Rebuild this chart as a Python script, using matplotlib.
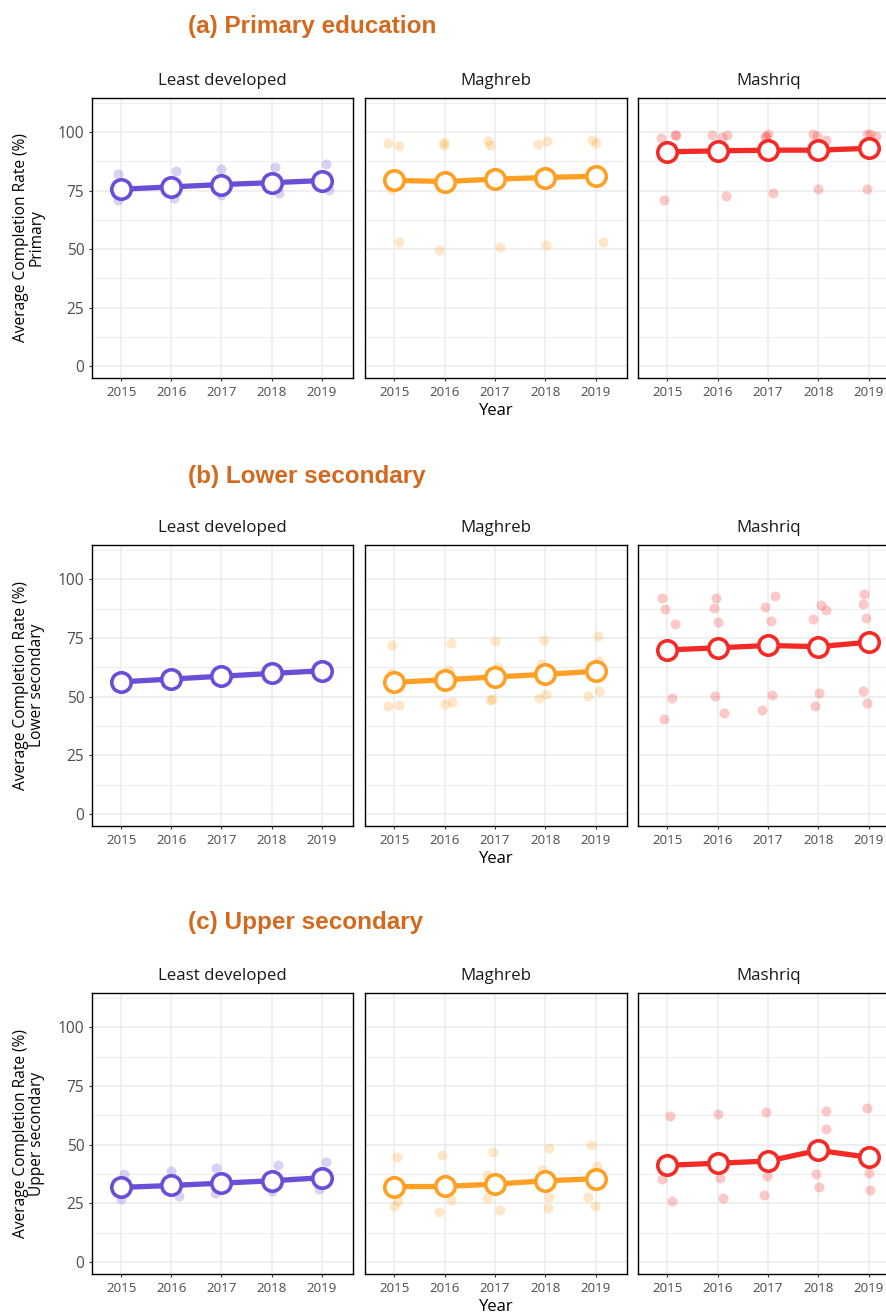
import matplotlib
matplotlib.use("Agg")
import matplotlib.pyplot as plt
from matplotlib.ticker import MultipleLocator

# ---------------- data ----------------
years = [2015, 2016, 2017, 2018, 2019]
regions = ["Least developed", "Maghreb", "Mashriq"]
levels = ["Primary", "Lower secondary", "Upper secondary"]
level_titles = ["(a) Primary education", "(b) Lower secondary", "(c) Upper secondary"]

# Primary
primary_ld_mean = [75.6, 76.6, 77.6, 78.4, 79.3]
primary_ld_pts = [[82.3, 70.9, 74.3], [83.3, 71.7, 74.5], [84.3, 73.0, 75.5],
                  [85.3, 74.2, 76.0], [86.3, 75.2, 76.5]]
primary_ld_jit = [[-0.07, -0.07, 0.02], [0.09, 0.05, -0.06], [0.0, 0.0, 0.03],
                  [0.07, 0.15, -0.07], [0.08, 0.14, -0.05]]

primary_mag_mean = [79.4, 78.9, 79.9, 80.6, 81.2]
primary_mag_pts = [[95.2, 94.0, 52.9, 75.5], [95.9, 94.3, 49.6, 75.8],
                   [96.2, 94.4, 50.7, 78.3], [94.9, 96.3, 51.8, 79.4],
                   [96.6, 95.2, 52.9, 80.1]]
primary_mag_jit = [[-0.13, 0.09, 0.09, -0.07], [-0.02, -0.02, -0.12, 0.05],
                   [-0.13, -0.10, 0.09, 0.02], [-0.15, 0.03, 0.01, 0.04],
                   [-0.07, 0.01, 0.15, -0.03]]

primary_mas_mean = [91.6, 92.0, 92.3, 92.3, 93.1]
primary_mas_pts = [[97.3, 98.7, 98.7, 71.2], [98.8, 98.0, 98.6, 72.6],
                   [98.0, 99.0, 98.4, 73.8], [99.0, 98.2, 96.6, 75.5],
                   [99.0, 99.4, 98.2, 75.8]]
primary_mas_jit = [[-0.13, 0.15, 0.17, -0.07], [-0.12, 0.08, 0.18, 0.16],
                   [-0.06, 0.01, -0.03, 0.10], [-0.10, -0.02, 0.15, 0.0],
                   [-0.04, 0.02, 0.15, -0.04]]

# Lower secondary
lower_ld_mean = [56.3, 57.5, 58.7, 59.9, 61.0]
lower_ld_pts = [[56.3], [57.5], [58.7], [59.9], [61.0]]
lower_ld_jit = [[0.0], [0.0], [0.0], [0.0], [0.0]]

lower_mag_mean = [56.1, 57.2, 58.4, 59.5, 60.8]
lower_mag_pts = [[71.8, 60.1, 45.9, 46.6], [72.8, 61.5, 47.0, 47.6],
                 [73.6, 62.7, 48.4, 49.1], [74.1, 63.7, 49.3, 51.0],
                 [75.8, 65.1, 50.1, 52.4]]
lower_mag_jit = [[-0.05, -0.07, -0.13, 0.09], [0.13, 0.09, 0.0, 0.14],
                 [0.01, 0.05, -0.10, -0.05], [-0.02, -0.09, -0.12, 0.02],
                 [0.05, 0.07, -0.15, 0.06]]

lower_mas_mean = [69.9, 70.8, 71.8, 71.3, 73.2]
lower_mas_pts = [[91.9, 87.2, 80.9, 49.3, 40.6], [92.0, 87.6, 81.6, 50.1, 42.9],
                 [92.9, 88.3, 82.2, 50.9, 44.4], [89.0, 86.9, 83.2, 51.6, 46.2],
                 [93.6, 89.6, 83.6, 52.4, 47.1]]
lower_mas_jit = [[-0.10, -0.05, 0.15, 0.09, -0.07], [-0.04, -0.08, 0.0, -0.05, 0.12],
                 [0.13, -0.05, 0.06, 0.07, -0.12], [0.05, 0.16, -0.11, 0.02, -0.06],
                 [-0.10, -0.12, -0.05, -0.12, -0.03]]

# Upper secondary
upper_ld_mean = [31.8, 32.6, 33.6, 34.6, 35.9]
upper_ld_pts = [[37.7, 27.0, 30.7], [38.6, 28.3, 31.0], [40.0, 29.3, 31.5],
                [41.2, 30.1, 32.5], [42.6, 31.2, 34.0]]
upper_ld_jit = [[0.05, 0.0, 0.03], [0.0, 0.15, -0.04], [-0.10, -0.12, 0.04],
                [0.12, 0.0, -0.05], [0.08, -0.05, 0.03]]

upper_mag_mean = [32.1, 32.2, 33.2, 34.6, 35.5]
upper_mag_pts = [[44.6, 23.9, 26.1, 33.8], [45.7, 21.2, 26.5, 35.4],
                 [46.9, 37.2, 27.1, 22.2], [48.7, 39.3, 27.6, 22.9],
                 [49.9, 40.7, 27.9, 23.8]]
upper_mag_jit = [[0.05, 0.0, 0.07, -0.03], [-0.06, -0.11, 0.13, 0.02],
                 [-0.03, -0.15, -0.15, 0.09], [0.08, -0.06, 0.08, 0.05],
                 [-0.09, 0.03, -0.15, -0.01]]

upper_mas_mean = [41.2, 42.1, 43.0, 47.6, 44.6]
upper_mas_pts = [[62.4, 35.5, 25.8], [63.0, 36.0, 27.2], [63.7, 36.6, 28.5],
                 [64.5, 56.7, 37.3, 32.1], [65.4, 37.9, 30.6]]
upper_mas_jit = [[0.05, -0.11, 0.09], [0.0, 0.05, 0.11], [-0.03, -0.01, -0.07],
                 [0.16, 0.15, -0.04, 0.02], [-0.03, 0.0, 0.03]]

means = [[primary_ld_mean, primary_mag_mean, primary_mas_mean],
         [lower_ld_mean, lower_mag_mean, lower_mas_mean],
         [upper_ld_mean, upper_mag_mean, upper_mas_mean]]
points = [[primary_ld_pts, primary_mag_pts, primary_mas_pts],
          [lower_ld_pts, lower_mag_pts, lower_mas_pts],
          [upper_ld_pts, upper_mag_pts, upper_mas_pts]]
jitters = [[primary_ld_jit, primary_mag_jit, primary_mas_jit],
           [lower_ld_jit, lower_mag_jit, lower_mas_jit],
           [upper_ld_jit, upper_mag_jit, upper_mas_jit]]

region_colors = ["#6B4ED8", "#FFA024", "#F42A26"]
title_color = "#D2691E"

# ---------------- figure ----------------
W, H = 887, 1313
fig = plt.figure(figsize=(W / 100, H / 100), dpi=100)
plt.rcParams['font.family'] = ['Open Sans', 'DejaVu Sans']

col_px = [(92, 353), (365, 627), (638, 900)]
row_px = [(98, 378), (545, 826), (993, 1274)]
title_y = [27, 476, 922]

for r in range(3):
    top, bot = row_px[r]
    fig.text(188 / W, 1 - title_y[r] / H, level_titles[r], color=title_color,
             fontsize=17.5, fontweight='bold', family=['Liberation Sans', 'DejaVu Sans'],
             ha='left', va='center')
    fig.text(29 / W, 1 - ((top + bot) / 2) / H,
             "Average Completion Rate (%)\n" + levels[r], rotation=90,
             ha='center', va='center', multialignment='center', fontsize=11.2,
             color='black', linespacing=0.95)
    for c in range(3):
        l, rr = col_px[c]
        ax = fig.add_axes([l / W, 1 - bot / H, (rr - l) / W, (bot - top) / H])
        ax.set_xlim(2014.42, 2019.62)
        ax.set_ylim(-5.1, 114.6)
        ax.yaxis.set_major_locator(MultipleLocator(25))
        ax.yaxis.set_minor_locator(MultipleLocator(12.5))
        ax.set_xticks(years)
        ax.grid(which='major', color='#EBEBEB', linewidth=1.1, zorder=0)
        ax.grid(which='minor', axis='y', color='#EBEBEB', linewidth=0.6, zorder=0)
        ax.set_axisbelow(True)
        for s in ax.spines.values():
            s.set_color('black')
            s.set_linewidth(1.0)
        if c == 2:
            ax.spines['right'].set_visible(False)
        ax.tick_params(which='major', length=2.5, width=0.8, color='#333333',
                       labelcolor='#4D4D4D')
        ax.tick_params(which='minor', length=0)
        ax.tick_params(axis='x', labelsize=9.6, pad=3)
        ax.tick_params(axis='y', labelsize=11.2, pad=3)
        if c != 0:
            ax.tick_params(axis='y', labelleft=False, length=0)
        col = region_colors[c]
        pts = points[r][c]
        jit = jitters[r][c]
        for i, yr in enumerate(years):
            xs = [yr + j for j in jit[i]]
            ax.scatter(xs, pts[i], s=52, color=col, alpha=0.25, linewidths=0, zorder=2)
        ax.plot(years, means[r][c], color=col, linewidth=3.8, zorder=3,
                solid_capstyle='butt')
        ax.plot(years, means[r][c], linestyle='none', marker='o', markersize=14,
                markerfacecolor='white', markeredgecolor=col, markeredgewidth=2.6, zorder=4)
        fig.text(((l + rr) / 2) / W, 1 - (top - 17) / H, regions[c], ha='center',
                 va='center', fontsize=12.2, color='#1A1A1A')
    fig.text(496 / W, 1 - (bot + 33) / H, "Year", ha='center', va='center',
             fontsize=12, color='black')

fig.savefig("out.png", dpi=100)
